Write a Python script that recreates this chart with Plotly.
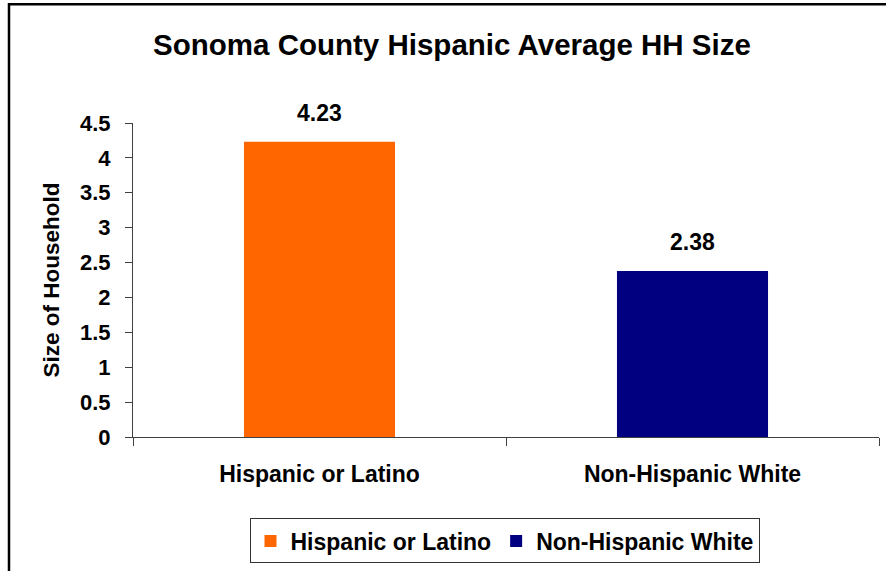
import plotly.graph_objects as go

categories = ["Hispanic or Latino", "Non-Hispanic White"]
values = [4.23, 2.38]
colors = ["#FF6600", "#000080"]
title_text = "Sonoma County Hispanic Average HH Size"
y_title = "Size of Household"

W, H = 886, 571
L, R, T, B = 133, 7, 123, 132
pw, ph = W - L - R, H - T - B

FONT = "Arial, Liberation Sans, sans-serif"

fig = go.Figure()
for cat, val, col in zip(categories, values, colors):
    fig.add_trace(go.Bar(
        x=[cat], y=[val], name=cat, marker=dict(color=col, line=dict(width=0)),
        width=0.405, showlegend=True,
    ))

for cat, val in zip(categories, values):
    fig.add_annotation(
        x=cat, y=val, text=f"{val:.2f}", showarrow=False,
        xref="x", yref="y", yanchor="middle", yshift=29,
        font=dict(family=FONT, size=23, color="black", weight="bold"),
    )

# outer frame
fig.add_shape(
    type="rect", xref="paper", yref="paper",
    x0=(9 - L) / pw, x1=1.2, y0=-1.0, y1=1 + (T - 3.5) / ph,
    line=dict(color="black", width=2.5), fillcolor="rgba(0,0,0,0)", layer="above",
)

fig.update_layout(
    width=W, height=H,
    margin=dict(l=L, r=R, t=T, b=B, pad=0),
    paper_bgcolor="white", plot_bgcolor="white",
    barmode="overlay",
    title=dict(
        text=title_text, x=452 / W, xanchor="center", xref="container",
        y=1 - 45 / H, yanchor="middle", yref="container",
        font=dict(family=FONT, size=29.5, color="black", weight="bold"),
    ),
    xaxis=dict(
        type="category", tickson="boundaries", ticks="outside", ticklen=8,
        tickcolor="#404040", showline=True, linecolor="#404040", linewidth=1,
        showgrid=False, zeroline=False, range=[-0.5, 1.5],
        tickfont=dict(family=FONT, size=23, color="black", weight="bold"),
        ticklabelstandoff=16,
    ),
    yaxis=dict(
        range=[0, 4.5], dtick=0.5, tick0=0, ticks="outside", ticklen=7,
        tickcolor="#404040", showline=True, linecolor="#404040", linewidth=1,
        showgrid=False, zeroline=False,
        tickfont=dict(family=FONT, size=22, color="black", weight="bold"),
        ticklabelstandoff=10,
        title=dict(text=y_title, standoff=14,
                   font=dict(family=FONT, size=22.5, color="black", weight="bold")),
    ),
    legend=dict(
        orientation="h", x=(504.5 - L) / pw, xanchor="center",
        y=(H - B - 521) / ph, yanchor="top",
        bordercolor="#333333", borderwidth=1, bgcolor="white",
        font=dict(family=FONT, size=23, color="black", weight="bold"),
        traceorder="normal",
    ),
    showlegend=True,
)

fig.write_html("out.html")
